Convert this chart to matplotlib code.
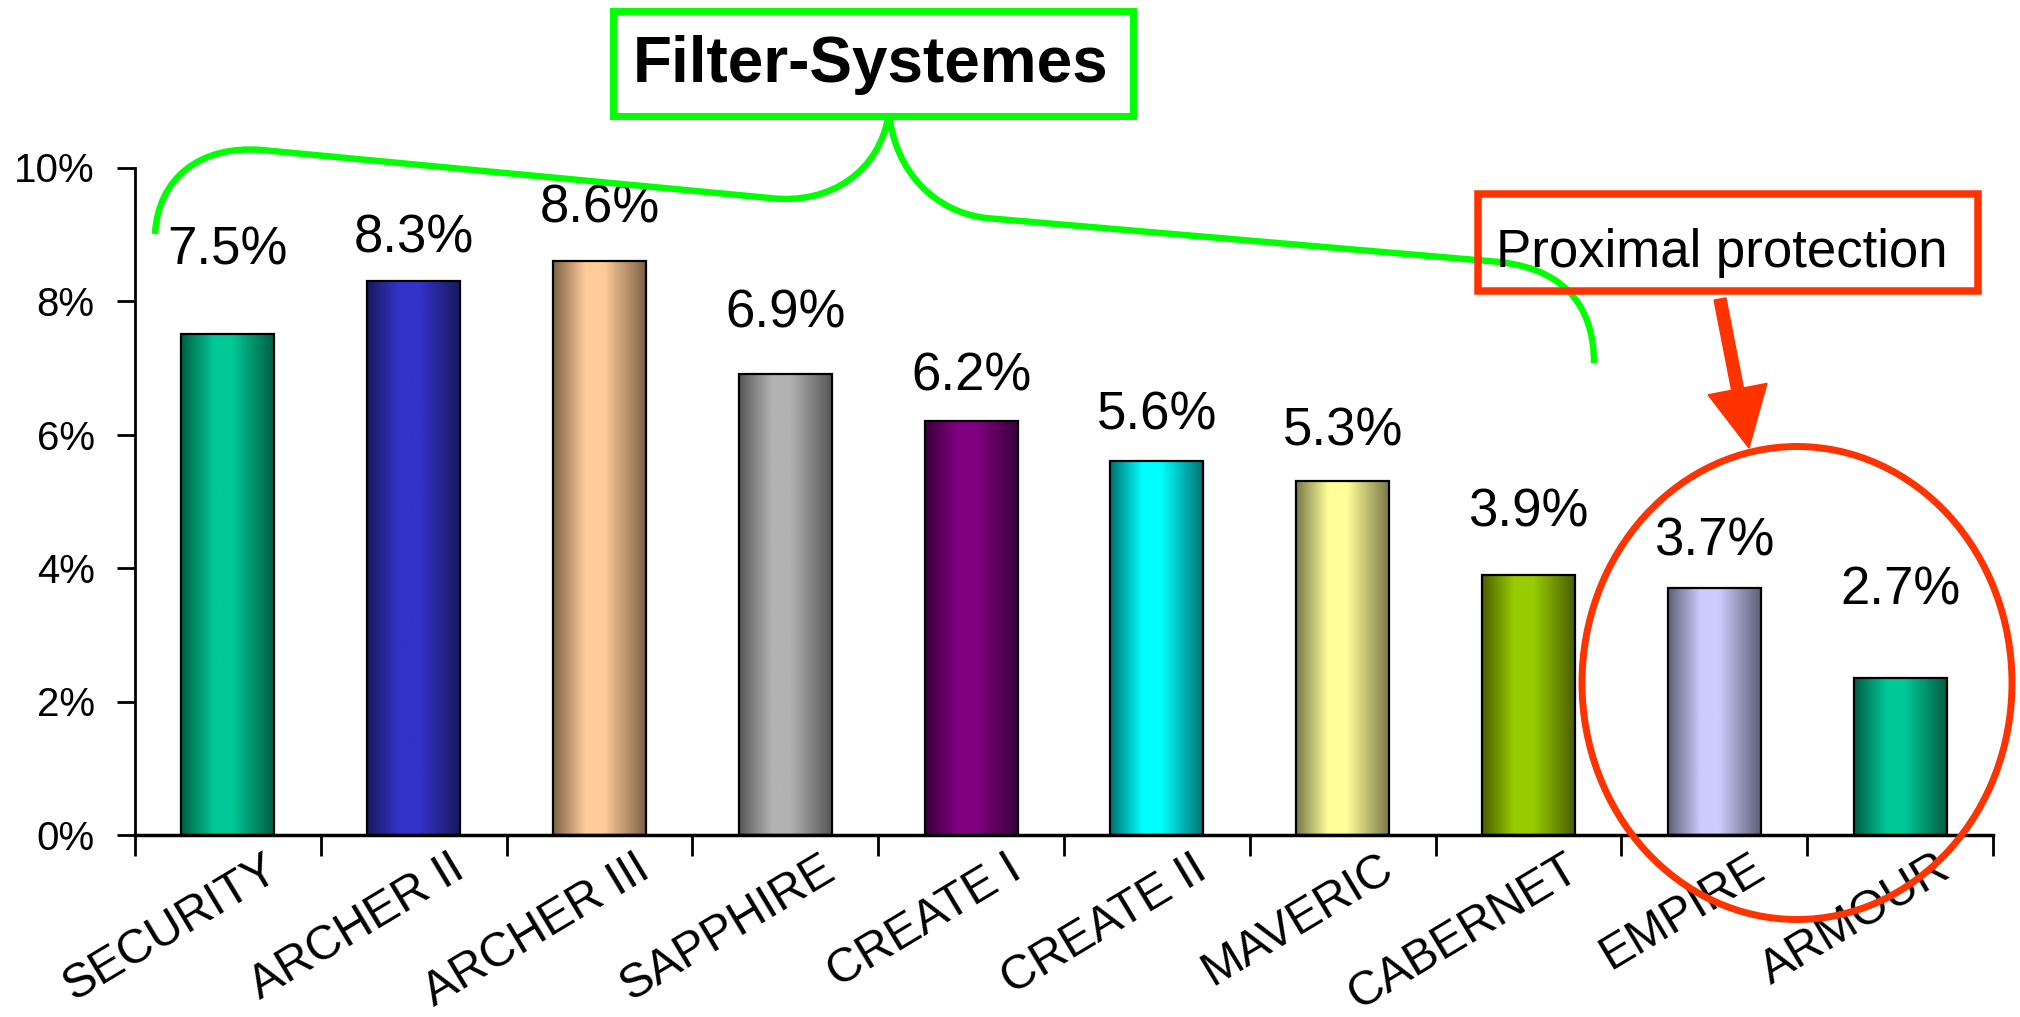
import numpy as np
import matplotlib
matplotlib.use("Agg")
import matplotlib.pyplot as plt
from matplotlib import font_manager
from matplotlib.colors import LinearSegmentedColormap
from matplotlib.patches import Rectangle, Ellipse, PathPatch, FancyArrow
from matplotlib.path import Path
from matplotlib.transforms import ScaledTranslation

plt.rcParams['font.family'] = ['Liberation Sans', 'DejaVu Sans']

# --- data ---
products = ["SECURITY", "ARCHER II", "ARCHER III", "SAPPHIRE", "CREATE I",
            "CREATE II", "MAVERIC", "CABERNET", "EMPIRE", "ARMOUR"]
bar_values = [7.5, 8.3, 8.6, 6.9, 6.2, 5.6, 5.3, 3.9, 3.7, 2.35]
value_labels = ["7.5%", "8.3%", "8.6%", "6.9%", "6.2%", "5.6%", "5.3%", "3.9%", "3.7%", "2.7%"]
y_ticks = [0, 2, 4, 6, 8, 10]

# light (centre) / dark (edge) colour per bar
light_colors = ["#00C896", "#3333CC", "#FFCC99", "#B2B2B2", "#800080",
                "#00FFFF", "#FFFF99", "#99CC00", "#CCCCFF", "#00C896"]
dark_colors = ["#005E44", "#19195F", "#7F6248", "#575757", "#3A003A",
               "#007272", "#7A7A48", "#4A6000", "#5F5F78", "#005E44"]

# label heights (layout only)
label_y = [8.75, 8.94, 9.38, 7.82, 6.87, 6.29, 6.04, 4.83, 4.40, 3.67]

W, H = 2020, 1017
fig = plt.figure(figsize=(W / 100, H / 100), dpi=100)
ax = fig.add_axes([135 / W, 1 - 835 / H, (1993 - 135) / W, (835 - 167.5) / H])

x = np.arange(len(products))
bw = 0.5
bars = ax.bar(x, bar_values, width=bw, facecolor="none", edgecolor="black",
              linewidth=1.6, zorder=3)

grad = np.linspace(0, 1, 200).reshape(1, -1)
for i, b in enumerate(bars):
    cmap = LinearSegmentedColormap.from_list(
        f"g{i}", [(0, dark_colors[i]), (0.35, light_colors[i]),
                  (0.55, light_colors[i]), (1, dark_colors[i])])
    im = ax.imshow(grad, cmap=cmap, aspect="auto", zorder=2,
                   extent=[x[i] - bw / 2, x[i] + bw / 2, 0, bar_values[i]])
    im.set_clip_path(b)
    ax.text(x[i], label_y[i], value_labels[i], ha="center", va="center",
            fontsize=38, zorder=5)

ax.set_xlim(-0.5, len(products) - 0.5)
ax.set_ylim(0, 10)

# axes styling
for s in ["top", "right"]:
    ax.spines[s].set_visible(False)
ax.spines["left"].set_linewidth(2)
ax.spines["bottom"].set_linewidth(2.5)
ax.set_yticks(y_ticks)
ax.set_yticklabels([f"{v}%" for v in y_ticks])
ax.tick_params(axis="y", direction="out", length=13, width=2, labelsize=29, pad=16)

ax.set_xticks(x)
ax.set_xticks(np.arange(-0.5, len(products)), minor=True)
ax.tick_params(axis="x", which="major", length=0, pad=8)
ax.tick_params(axis="x", which="minor", direction="out", length=15, width=2)
ax.set_xticklabels(products, rotation=31, ha="right", va="top", fontsize=34.5)
off = ScaledTranslation(0.58, 0, fig.dpi_scale_trans)
for lab in ax.get_xticklabels():
    lab.set_transform(lab.get_transform() + off)


# --- annotations in figure pixel space ---
def fp(px, py):
    return (px / W, 1 - py / H)


def inch(px, py):
    # pixel (top-left origin) -> inches, for shapes that need equal x/y scale
    return (px / 100, (H - py) / 100)


# green brace
verts = [(155, 234), (158, 178), (200, 145), (262, 150),
         (770, 198),
         (830, 205), (880, 172), (889, 113),
         (895, 172), (935, 212), (986, 218),
         (1500, 262),
         (1570, 270), (1594, 312), (1594, 363)]
codes = [Path.MOVETO, Path.CURVE4, Path.CURVE4, Path.CURVE4,
         Path.LINETO,
         Path.CURVE4, Path.CURVE4, Path.CURVE4,
         Path.CURVE4, Path.CURVE4, Path.CURVE4,
         Path.LINETO,
         Path.CURVE4, Path.CURVE4, Path.CURVE4]
brace = PathPatch(Path([fp(*v) for v in verts], codes), facecolor="none",
                  edgecolor="#00FF00", linewidth=4.6, transform=fig.transFigure,
                  zorder=6)
fig.patches.append(brace)

# green title box
fig.patches.append(Rectangle(fp(612.5, 115.5), (1132.5 - 612.5) / W, 104 / H,
                             transform=fig.transFigure, facecolor="white",
                             edgecolor="#00FF00", linewidth=5, zorder=7))
fig.text(*fp(871, 82), "Filter-Systemes", ha="center", va="baseline",
         fontsize=46, fontweight="bold", zorder=8)

# red box (narrow face if available)
names = {f.name for f in font_manager.fontManager.ttflist}
if "Liberation Sans Narrow" in names:
    prox_family, prox_size = ["Liberation Sans Narrow", "Liberation Sans"], 45
else:
    prox_family, prox_size = ["Liberation Sans", "DejaVu Sans"], 38
fig.patches.append(Rectangle(fp(1477.5, 291), (1977.5 - 1477.5) / W, 96.5 / H,
                             transform=fig.transFigure, facecolor="none",
                             edgecolor="#FF3300", linewidth=5.4, zorder=7))
fig.text(*fp(1722, 267), "Proximal protection", ha="center", va="baseline",
         fontsize=prox_size, family=prox_family, zorder=8)

# red arrow
x0, y0 = inch(1720, 299)
x1, y1 = inch(1749, 448)
fig.patches.append(FancyArrow(x0, y0, x1 - x0, y1 - y0, width=0.12,
                              head_width=0.6, head_length=0.6,
                              length_includes_head=True, color="#FF3300",
                              transform=fig.dpi_scale_trans, zorder=7))

# red ellipse
fig.patches.append(Ellipse(inch(1797, 683), 4.30, 4.73,
                           transform=fig.dpi_scale_trans, facecolor="none",
                           edgecolor="#FF3300", linewidth=5, zorder=7))

fig.savefig("out.png", dpi=100, facecolor="white")
